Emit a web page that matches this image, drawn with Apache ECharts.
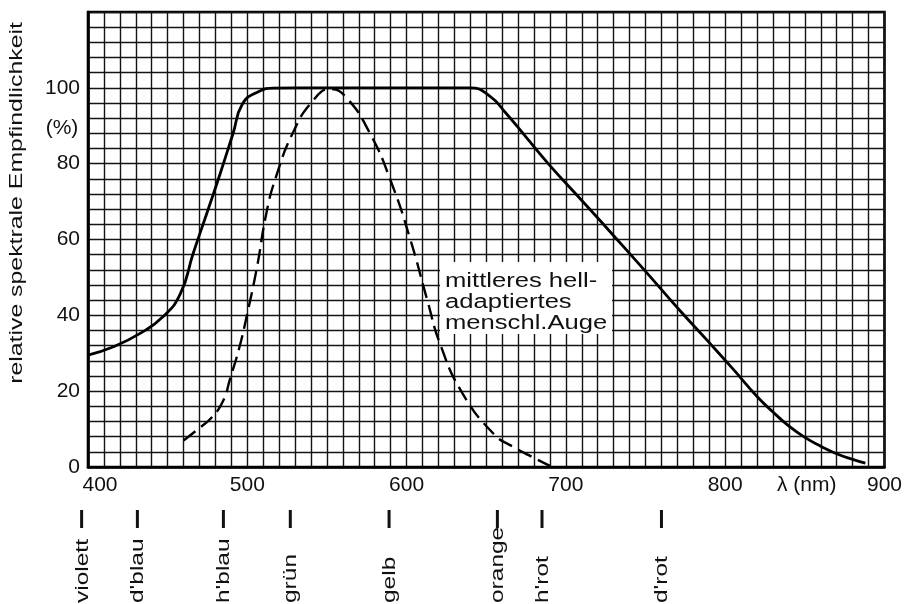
<!DOCTYPE html>
<html>
<head>
<meta charset="utf-8">
<script src="https://cdn.jsdelivr.net/npm/echarts@6/dist/echarts.min.js"></script>
<style>
html,body{margin:0;padding:0;background:#fff;}
#c{width:905px;height:604px;}
</style>
</head>
<body>
<div id="c"></div>
<script>
// Solid curve (wavelength in nm, relative sensitivity in %)
var solidNm  = [400, 416, 433, 447, 458, 466, 474.5, 483, 491, 497, 506, 516, 530, 560, 600, 630, 640, 652, 662, 675, 690, 710, 730, 750, 770, 790, 805, 820, 830, 840, 850, 860, 870, 880, 888];
var solidVal = [29.5, 31.7, 35.3, 39.6, 45.7, 56.3, 66.8, 77.4, 87.9, 95.8, 98.8, 99.9, 100, 100, 100, 100, 100, 97.9, 93.5, 87, 79.5, 70.3, 61, 51.6, 42, 32.8, 25.8, 18.6, 14.5, 10.8, 7.8, 5.5, 3.5, 2, 1];
// Dashed curve: mittleres helladaptiertes menschl. Auge
var eyeNm  = [460, 470, 478, 485, 489, 495, 500, 506, 512, 518, 529, 541, 552, 562, 577, 590, 602, 613, 621, 635, 655, 667, 680, 690];
var eyeVal = [7, 10.3, 13.2, 17.6, 23, 31.5, 40.5, 52.5, 67, 76.5, 88.5, 96.5, 99.7, 97.5, 88, 75.5, 60.5, 44, 32.5, 19.5, 8.6, 5.3, 2.4, 0.3];
// Colour band labels under the axis
var bandNames = ['violett', "d'blau", "h'blau", 'grün', 'gelb', 'orange', "h'rot", "d'rot"];
var bandNm    = [396, 431, 485, 527, 589, 657, 685, 760];
// Ticks
var xTicks = [400, 500, 600, 700, 800, 900];
var yTicks = [0, 20, 40, 60, 80, 100];

var FONT = '"Liberation Sans", Arial, Helvetica, sans-serif';
var chart = echarts.init(document.getElementById('c'), null, {renderer: 'canvas', width: 905, height: 604});

function zip(a, b) { return a.map(function (v, i) { return [v, b[i]]; }); }

var gridLine = {show: true, lineStyle: {color: '#141414', width: 1.4, type: 'solid'}};

chart.setOption({
  animation: false,
  backgroundColor: '#ffffff',
  grid: {left: 88, right: 20, top: 12, bottom: 137, show: true, borderColor: '#000', borderWidth: 2.6, backgroundColor: 'transparent'},
  xAxis: {
    type: 'value', min: 400, max: 900, interval: 100,
    axisLine: {show: true, onZero: false, lineStyle: {color: '#000', width: 2.6}},
    axisTick: {show: false},
    minorTick: {show: false, splitNumber: 10},
    splitLine: gridLine,
    minorSplitLine: gridLine,
    axisLabel: {
      color: '#111', fontFamily: FONT, fontSize: 21, margin: 8,
      formatter: function (v) { return xTicks.indexOf(v) < 0 ? '' : (v === 400 ? '{s|400}' : String(v)); },
      rich: {s: {padding: [0, 0, 0, 24], fontSize: 21, fontFamily: FONT, color: '#111'}}
    }
  },
  yAxis: {
    type: 'value', min: 0, max: 120, interval: 20,
    axisLine: {show: true, onZero: false, lineStyle: {color: '#000', width: 2.6}},
    axisTick: {show: false},
    minorTick: {show: false, splitNumber: 5},
    splitLine: gridLine,
    minorSplitLine: gridLine,
    axisLabel: {
      color: '#111', fontFamily: FONT, fontSize: 21, margin: 8,
      formatter: function (v) { return yTicks.indexOf(v) < 0 ? '' : String(v); }
    }
  },
  series: [
    {type: 'line', data: zip(solidNm, solidVal), showSymbol: false, symbol: 'none', smooth: 0.5,
     lineStyle: {color: '#000', width: 2.8}, z: 5},
    {type: 'line', data: zip(eyeNm, eyeVal), showSymbol: false, symbol: 'none', smooth: 0.5,
     lineStyle: {color: '#000', width: 2.4, type: [15, 7]}, z: 5}
  ]
});

var g = [];
// y axis name
g.push({type: 'text', x: 17, y: 203, rotation: Math.PI / 2, scaleX: 1.38, z: 10,
  style: {text: 'relative spektrale Empfindlichkeit', fontFamily: FONT, fontSize: 18, fill: '#111', align: 'center', verticalAlign: 'middle'}});
// (%)
g.push({type: 'text', x: 62, y: 128, z: 10,
  style: {text: '(%)', fontFamily: FONT, fontSize: 21, fill: '#111', align: 'center', verticalAlign: 'middle'}});
// lambda (nm)
g.push({type: 'text', x: 777, y: 485, z: 10,
  style: {text: 'λ (nm)', fontFamily: FONT, fontSize: 21, fill: '#111', align: 'left', verticalAlign: 'middle'}});
// annotation box
g.push({type: 'rect', shape: {x: 440, y: 262, width: 172, height: 72}, style: {fill: '#fff'}, z: 3});
var ann = ['mittleres hell-', 'adaptiertes', 'menschl.Auge'];
ann.forEach(function (t, i) {
  g.push({type: 'text', x: 445, y: 281 + i * 21, scaleX: 1.28, z: 10,
    style: {text: t, fontFamily: FONT, fontSize: 20, fill: '#111', align: 'left', verticalAlign: 'middle'}});
});
// colour band labels
bandNames.forEach(function (name, i) {
  var px = chart.convertToPixel({xAxisIndex: 0}, bandNm[i]);
  g.push({type: 'line', shape: {x1: px, y1: 510, x2: px, y2: 528}, style: {stroke: '#111', lineWidth: 3}, z: 10});
  g.push({type: 'text', x: px + 1, y: 603, rotation: Math.PI / 2, scaleX: 1.36, z: 10,
    style: {text: name, fontFamily: FONT, fontSize: 18, fill: '#111', align: 'left', verticalAlign: 'middle'}});
});
chart.setOption({graphic: {elements: g}});
</script>
</body>
</html>
